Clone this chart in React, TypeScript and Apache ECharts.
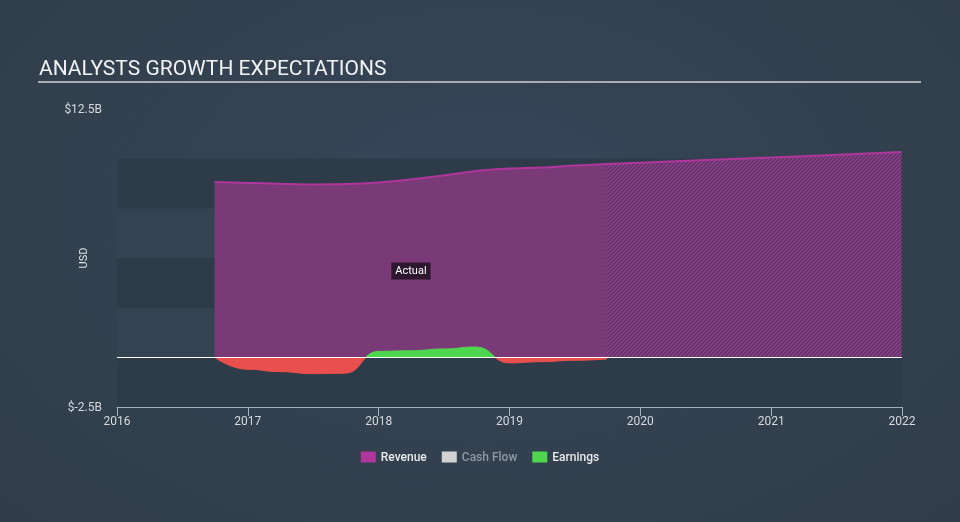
import React, { useEffect, useRef } from 'react';
import * as echarts from 'echarts';

const yearTicks = [2016, 2017, 2018, 2019, 2020, 2021, 2022];

const revenueActualDates = [
  '2016-09-30', '2016-12-31', '2017-03-31', '2017-06-30', '2017-09-30',
  '2017-12-31', '2018-03-31', '2018-06-30', '2018-09-30', '2018-12-31',
  '2019-03-31', '2019-06-30', '2019-09-30',
];
const revenueActualValues = [
  8.82, 8.78, 8.74, 8.70, 8.72, 8.80, 8.95, 9.15, 9.38, 9.50, 9.55, 9.65, 9.73,
];

const revenueForecastDates = ['2019-09-30', '2019-12-31', '2020-12-31', '2021-12-31'];
const revenueForecastValues = [9.73, 9.80, 10.06, 10.33];

const earningsDates = [
  '2016-09-30', '2016-12-31', '2017-03-31', '2017-06-30', '2017-09-30',
  '2017-12-31', '2018-03-31', '2018-06-30', '2018-09-30', '2018-12-31',
  '2019-03-31', '2019-06-30', '2019-09-30',
];
const earningsValues = [
  0, -0.6, -0.72, -0.82, -0.8, 0.3, 0.33, 0.42, 0.52, -0.28, -0.22, -0.15, -0.08,
];

const cashFlowValues: [number, number][] = [];

const yMin = -2.5;
const yMax = 12.5;
const yStep = 2.5;

const actualLabelDate = '2018-04-01';
const actualLabelValue = 4.35;

function toYear(d: string): number {
  const [y, m, day] = d.split('-').map(Number);
  const start = Date.UTC(y, 0, 1);
  const end = Date.UTC(y + 1, 0, 1);
  return y + (Date.UTC(y, m - 1, day) - start) / (end - start);
}

function pairs(dates: string[], values: number[]): [number, number][] {
  return dates.map((d, i) => [toYear(d), values[i]]);
}

function makeHatch(): HTMLCanvasElement {
  const c = document.createElement('canvas');
  c.width = 4;
  c.height = 4;
  const ctx = c.getContext('2d')!;
  ctx.fillStyle = '#4c3a5e';
  ctx.fillRect(0, 0, 4, 4);
  ctx.strokeStyle = '#933a8c';
  ctx.lineWidth = 1.6;
  ctx.beginPath();
  ctx.moveTo(0, 4);
  ctx.lineTo(4, 0);
  ctx.moveTo(-1, 1);
  ctx.lineTo(1, -1);
  ctx.moveTo(3, 5);
  ctx.lineTo(5, 3);
  ctx.stroke();
  return c;
}

const FONT = 'Roboto, "Noto Sans", sans-serif';
const MAGENTA = '#b0369c';
const RED = '#e9504d';
const GREEN = '#4fd64f';

export default function App() {
  const ref = useRef<HTMLDivElement>(null);

  useEffect(() => {
    if (!ref.current) return;
    const chart = echarts.init(ref.current, undefined, { renderer: 'svg' });
    const hatch = makeHatch();

    chart.setOption({
      animation: false,
      backgroundColor: 'transparent',
      textStyle: { fontFamily: FONT },
      graphic: [
        {
          type: 'text',
          left: 39,
          top: 57,
          style: {
            text: 'ANALYSTS GROWTH EXPECTATIONS',
            fill: '#f0f2f4',
            fontSize: 21,
            fontFamily: FONT,
          },
        },
        {
          type: 'rect',
          shape: { x: 38, y: 81, width: 883, height: 2 },
          style: { fill: '#a9aeb4' },
        },
      ],
      grid: { left: 117, right: 58, top: 109, bottom: 115 },
      legend: {
        top: 446,
        left: 'center',
        icon: 'rect',
        itemWidth: 15,
        itemHeight: 11,
        itemGap: 15,
        selectedMode: false,
        textStyle: { color: '#e8eaec', fontSize: 12, fontFamily: FONT, fontWeight: 500 },
        data: [
          { name: 'Revenue' },
          { name: 'Cash Flow', textStyle: { color: '#8f99a4' } },
          { name: 'Earnings' },
        ],
      },
      xAxis: {
        type: 'value',
        min: yearTicks[0],
        max: yearTicks[yearTicks.length - 1],
        interval: 1,
        axisLine: { show: true, onZero: false, lineStyle: { color: '#a7b1bc', width: 1 } },
        axisTick: { show: true, length: 9, lineStyle: { color: '#a7b1bc' } },
        axisLabel: {
          color: '#d6dadf',
          fontSize: 12,
          margin: 8,
          fontFamily: FONT,
          formatter: (v: number) => String(v),
        },
        splitLine: { show: false },
      },
      yAxis: {
        type: 'value',
        min: yMin,
        max: yMax,
        interval: yStep,
        name: 'USD',
        nameLocation: 'middle',
        nameGap: 28,
        nameMoveOverlap: false,
        nameTextStyle: { color: '#dfe2e6', fontSize: 11, fontFamily: FONT },
        axisLine: { show: false },
        axisTick: { show: false },
        axisLabel: {
          color: '#d6dadf',
          fontSize: 12,
          margin: 15,
          fontFamily: FONT,
          formatter: (v: number) =>
            v === yMin || v === yMax ? '$' + v + 'B' : '',
        },
        splitLine: { show: false },
        splitArea: {
          show: true,
          areaStyle: {
            color: ['#2e3b49', '#344352', '#2e3b49', '#344352', '#2e3b49', 'rgba(0,0,0,0)'],
          },
        },
      },
      visualMap: {
        show: false,
        type: 'piecewise',
        seriesIndex: 3,
        dimension: 1,
        pieces: [
          { gte: -10, lt: 0, color: RED },
          { gte: 0, lte: 10, color: GREEN },
        ],
        outOfRange: { color: GREEN },
      },
      series: [
        {
          name: 'Revenue',
          type: 'line',
          data: pairs(revenueActualDates, revenueActualValues),
          smooth: 0.3,
          symbol: 'none',
          itemStyle: { color: MAGENTA },
          lineStyle: { color: MAGENTA, width: 2 },
          areaStyle: { color: '#7a3a77', opacity: 1 },
          z: 2,
          markPoint: {
            symbol: 'rect',
            symbolSize: 0,
            silent: true,
            data: [{ coord: [toYear(actualLabelDate), actualLabelValue] }],
            label: {
              show: true,
              position: 'inside',
              formatter: 'Actual',
              color: '#ffffff',
              fontSize: 11,
              fontFamily: FONT,
              backgroundColor: 'rgba(32,20,34,0.85)',
              padding: [3, 4, 3, 4],
            },
          },
        },
        {
          name: 'Revenue',
          type: 'line',
          data: pairs(revenueForecastDates, revenueForecastValues),
          smooth: 0.3,
          symbol: 'none',
          itemStyle: { color: MAGENTA },
          lineStyle: { color: MAGENTA, width: 2 },
          areaStyle: { color: { image: hatch, repeat: 'repeat' }, opacity: 1 },
          z: 2,
        },
        {
          name: 'Cash Flow',
          type: 'line',
          data: cashFlowValues,
          symbol: 'none',
          itemStyle: { color: '#d2d2d2' },
          lineStyle: { color: '#d2d2d2' },
        },
        {
          name: 'Earnings',
          type: 'line',
          data: pairs(earningsDates, earningsValues),
          smooth: true,
          smoothMonotone: 'x',
          symbol: 'none',
          itemStyle: { color: GREEN },
          lineStyle: { width: 1 },
          areaStyle: { opacity: 1 },
          z: 3,
          markLine: {
            silent: true,
            symbol: 'none',
            label: { show: false },
            lineStyle: { color: '#ffffff', width: 1, type: 'solid' },
            data: [{ yAxis: 0 }],
          },
        },
      ],
    });

    return () => chart.dispose();
  }, []);

  return (
    <div
      style={{
        position: 'fixed',
        left: 0,
        top: 0,
        width: 960,
        height: 522,
        background: 'radial-gradient(ellipse at 50% 40%, #36465a 0%, #334150 50%, #303c49 100%)',
      }}
    >
      <div ref={ref} style={{ width: 960, height: 522 }} />
    </div>
  );
}
